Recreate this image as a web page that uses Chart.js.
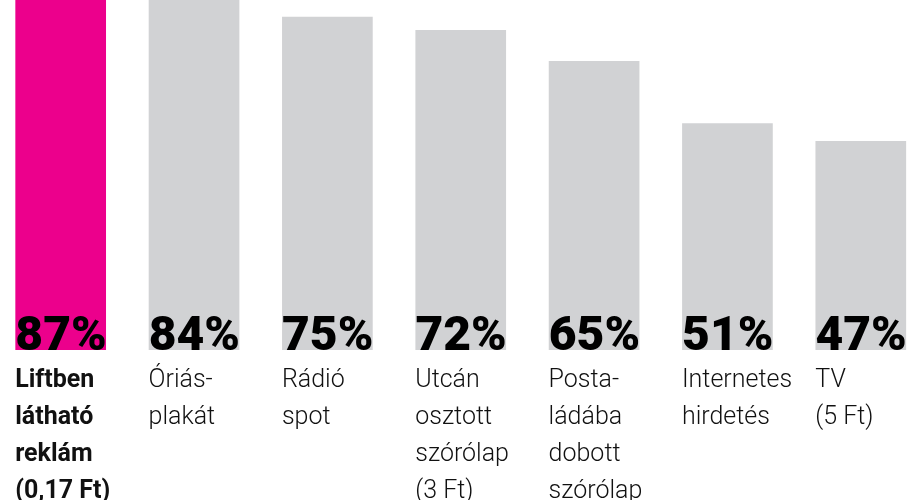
<!DOCTYPE html>
<html>
<head>
<meta charset="utf-8">
<script src="https://cdn.jsdelivr.net/npm/chart.js@4"></script>
<style>
  html, body { margin: 0; padding: 0; background: #ffffff; overflow: hidden; width: 912px; height: 500px; }
  #c { position: absolute; left: -6px; top: -50px; }
</style>
</head>
<body>
<canvas id="c" width="937" height="572"></canvas>
<script>
const categories = [
  ['Liftben', 'látható', 'reklám', '(0,17 Ft)'],
  ['Óriás-', 'plakát'],
  ['Rádió', 'spot'],
  ['Utcán', 'osztott', 'szórólap', '(3 Ft)'],
  ['Posta-', 'ládába', 'dobott', 'szórólap'],
  ['Internetes', 'hirdetés'],
  ['TV', '(5 Ft)']
];
const values = [87, 84, 75, 72, 65, 51, 47];
const barColors = ['#ec008c', '#d1d2d4', '#d1d2d4', '#d1d2d4', '#d1d2d4', '#d1d2d4', '#d1d2d4'];

const percentLabels = {
  id: 'percentLabels',
  afterDatasetsDraw(chart) {
    const ctx = chart.ctx;
    const meta = chart.getDatasetMeta(0);
    ctx.save();
    ctx.font = '900 48px Roboto';
    ctx.fillStyle = '#000000';
    ctx.textAlign = 'left';
    ctx.textBaseline = 'alphabetic';
    meta.data.forEach((bar, i) => {
      ctx.fillText(values[i] + '%', bar.x - bar.width / 2, bar.base);
    });
    ctx.restore();
  }
};

new Chart(document.getElementById('c'), {
  type: 'bar',
  data: {
    labels: categories,
    datasets: [{
      data: values,
      backgroundColor: barColors,
      borderWidth: 0,
      barPercentage: 0.68,
      categoryPercentage: 1.0
    }]
  },
  options: {
    responsive: false,
    devicePixelRatio: 1,
    animation: false,
    layout: { padding: 0 },
    plugins: { legend: { display: false }, tooltip: { enabled: false }, title: { display: false } },
    scales: {
      x: {
        grid: { display: false, drawTicks: false },
        border: { display: false },
        ticks: {
          autoSkip: false,
          maxRotation: 0,
          minRotation: 0,
          align: 'start',
          labelOffset: -45.5,
          padding: 12,
          color: '#111111',
          font: (c) => ({ family: 'Roboto', size: 25, weight: c.index === 0 ? 'bold' : '300', lineHeight: 1.48 })
        }
      },
      y: {
        display: false,
        min: 0,
        max: 90
      }
    }
  },
  plugins: [percentLabels]
});
</script>
</body>
</html>
